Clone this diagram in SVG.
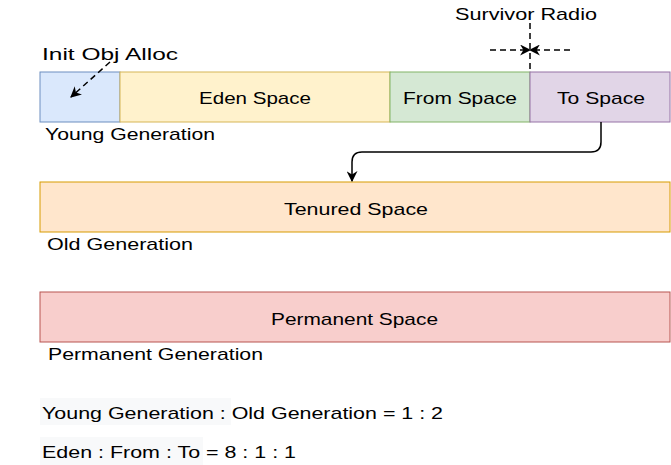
<svg xmlns="http://www.w3.org/2000/svg" width="671" height="465" viewBox="0 0 671 465">
<style>
text{font-family:"Liberation Sans","DejaVu Sans",sans-serif;font-size:17px;fill:#000}
.c{text-anchor:middle}
.dash{stroke:#000;stroke-width:1.5;stroke-dasharray:6 4;fill:none}
</style>
<defs>
<marker id="ah" viewBox="0 0 10 10" refX="9" refY="5" markerWidth="11" markerHeight="11" markerUnits="userSpaceOnUse" orient="auto">
<path d="M0,0 L10,5 L0,10 L3,5 Z" fill="#000"/>
</marker>
</defs>
<rect width="671" height="465" fill="#fff"/>
<g id="init"><rect x="40" y="72" width="80" height="50" fill="#dae8fc" stroke="#6c8ebf"/></g>
<g id="eden"><rect x="120" y="72" width="270" height="50" fill="#fff2cc" stroke="#d6b656"/><text class="c" x="255" y="104" textLength="112" lengthAdjust="spacingAndGlyphs">Eden Space</text></g>
<g id="from"><rect x="390" y="72" width="140" height="50" fill="#d5e8d4" stroke="#82b366"/><text class="c" x="460" y="104" textLength="114" lengthAdjust="spacingAndGlyphs">From Space</text></g>
<g id="to"><rect x="530" y="72" width="140" height="50" fill="#e1d5e7" stroke="#9673a6"/><text class="c" x="601" y="104" textLength="88" lengthAdjust="spacingAndGlyphs">To Space</text></g>
<g id="tenured"><rect x="40" y="182" width="630" height="50" fill="#ffe6cc" stroke="#d79b00"/><text class="c" x="356" y="215" textLength="144" lengthAdjust="spacingAndGlyphs">Tenured Space</text></g>
<g id="permanent"><rect x="40" y="292" width="630" height="50" fill="#f8cecc" stroke="#b85450"/><text class="c" x="354.5" y="325" textLength="167" lengthAdjust="spacingAndGlyphs">Permanent Space</text></g>
<g id="labels">
<text x="42" y="60" textLength="136" lengthAdjust="spacingAndGlyphs">Init Obj Alloc</text>
<text x="45" y="140" textLength="170" lengthAdjust="spacingAndGlyphs">Young Generation</text>
<text x="47" y="250" textLength="146" lengthAdjust="spacingAndGlyphs">Old Generation</text>
<text x="48" y="360" textLength="215" lengthAdjust="spacingAndGlyphs">Permanent Generation</text>
<text x="455" y="20" textLength="142" lengthAdjust="spacingAndGlyphs">Survivor Radio</text>
</g>
<g id="ratios">
<rect x="40" y="398" width="191" height="27" fill="#f8f9fa"/>
<rect x="40" y="437" width="163" height="28" fill="#f8f9fa"/>
<text x="42" y="419" textLength="401" lengthAdjust="spacingAndGlyphs">Young Generation : Old Generation = 1 : 2</text>
<text x="42" y="458" textLength="254" lengthAdjust="spacingAndGlyphs">Eden : From : To = 8 : 1 : 1</text>
</g>
<g id="connectors">
<path class="dash" d="M110,62 L71,97" marker-end="url(#ah)"/>
<path class="dash" d="M530,23 L530,72"/>
<path class="dash" d="M490,50 L530,50" marker-end="url(#ah)"/>
<path class="dash" d="M570,50 L530,50" marker-end="url(#ah)"/>
<path d="M601,122 L601,142 Q601,152 591,152 L362,152 Q352,152 352,162 L352,181" fill="none" stroke="#000" stroke-width="1.5" marker-end="url(#ah)"/>
</g>
</svg>
